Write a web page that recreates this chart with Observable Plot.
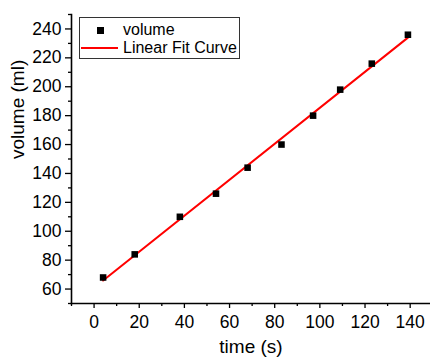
<!DOCTYPE html>
<html>
<head>
<meta charset="utf-8">
<script src="https://cdn.jsdelivr.net/npm/d3@7"></script>
<script src="https://cdn.jsdelivr.net/npm/@observablehq/plot@0.6"></script>
<style>
  html, body { margin: 0; padding: 0; background: #fff; }
  #wrap { position: relative; width: 430px; height: 360px; font-family: "Liberation Sans", Arial, sans-serif; }
  #legend { position: absolute; left: 79px; top: 17px; width: 161px; height: 42px; border: 1px solid #333; background: #fff; box-sizing: border-box; }
  #legend .row { position: absolute; left: 0; height: 20px; width: 100%; }
  #legend .lbl { position: absolute; left: 43px; font-size: 16px; line-height: 20px; color: #000; white-space: nowrap; }
  #legend .sq { position: absolute; left: 17px; top: 7px; width: 6.5px; height: 6.5px; background: #000; }
  #legend .ln { position: absolute; left: 1px; top: 9px; width: 37px; height: 2px; background: #ff0000; }
</style>
</head>
<body>
<div id="wrap"></div>
<script>
// Data
const time = [4, 18, 38, 54, 68, 83, 97, 109, 123, 139];
const volume = [68, 84, 110, 126, 144, 160, 180, 198, 216, 236];
const xTicks = [0, 20, 40, 60, 80, 100, 120, 140];
const xMinor = [-10, 10, 30, 50, 70, 90, 110, 130];
const yTicks = [60, 80, 100, 120, 140, 160, 180, 200, 220, 240];
const yMinor = [50, 70, 90, 110, 130, 150, 170, 190, 210, 230, 250];
const xTitle = "time (s)";
const yTitle = "volume (ml)";
const seriesNames = ["volume", "Linear Fit Curve"];

const data = time.map((t, i) => ({time: t, volume: volume[i]}));

const chart = Plot.plot({
  width: 430,
  height: 360,
  marginTop: 14,
  marginBottom: 57,
  marginLeft: 71,
  marginRight: 0,
  style: {fontFamily: "'Liberation Sans', Arial, sans-serif", fontSize: "17.5px", color: "#000", background: "#fff"},
  x: {domain: [-10, 149]},
  y: {domain: [50, 250]},
  marks: [
    Plot.axisX({ticks: xTicks, tickSize: 5, tickPadding: 7, label: null, strokeWidth: 1.3}),
    Plot.axisX({ticks: xMinor, tickSize: 3, text: null, label: null, strokeWidth: 1.3}),
    Plot.axisY({ticks: yTicks, tickSize: 6, tickPadding: 4, label: null, strokeWidth: 1.3}),
    Plot.axisY({ticks: yMinor, tickSize: 3, text: null, label: null, strokeWidth: 1.3}),
    Plot.frame({anchor: "bottom", strokeWidth: 1.6}),
    Plot.frame({anchor: "left", strokeWidth: 1.6}),
    Plot.linearRegressionY(data, {x: "time", y: "volume", stroke: "#ff0000", strokeWidth: 2, ci: 0}),
    Plot.dot(data, {x: "time", y: "volume", symbol: "square", r: 3.7, fill: "#000", stroke: "none"}),
    Plot.text([xTitle], {frameAnchor: "bottom", dy: 49, fontSize: 19, fill: "#000"}),
    Plot.text([yTitle], {frameAnchor: "left", dx: -54, rotate: -90, fontSize: 19, fill: "#000"})
  ]
});

const wrap = document.getElementById("wrap");
wrap.appendChild(chart);

const legend = document.createElement("div");
legend.id = "legend";
legend.innerHTML =
  `<div class="row" style="top:2px"><div class="sq"></div><div class="lbl">${seriesNames[0]}</div></div>` +
  `<div class="row" style="top:20px"><div class="ln"></div><div class="lbl">${seriesNames[1]}</div></div>`;
wrap.appendChild(legend);
</script>
</body>
</html>
